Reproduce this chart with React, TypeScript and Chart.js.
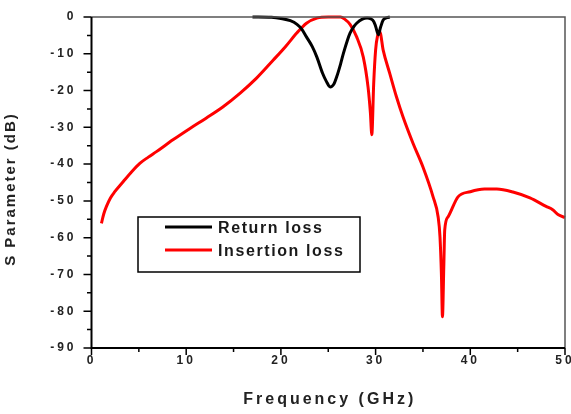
import React, { useEffect, useRef } from 'react';
import { Chart, registerables } from 'chart.js';

Chart.register(...registerables);

// Return loss (S11)
const returnFreq = [17, 19, 20, 21, 21.7, 22.2, 22.7, 23.3, 23.8, 24.4, 24.8, 25.2, 25.6, 25.9, 26.3, 26.6, 27.0, 27.3, 27.7, 28.0, 28.6, 29.1, 29.5, 29.8, 30.0, 30.3, 30.5, 30.8, 31.2, 31.5];
const returnDb = [0, -0.1, -0.4, -1.0, -2.0, -3.3, -5.4, -8.0, -10.9, -15.3, -17.5, -19, -18.2, -16.2, -12.8, -9.9, -6.5, -4.4, -2.6, -1.7, -0.6, -0.3, -0.5, -1.2, -2.5, -4.8, -3.0, -0.8, -0.2, 0];

// Insertion loss (S21)
const insertionFreq = [1.05, 1.3, 1.58, 2.0, 2.46, 3.34, 4.2, 5.1, 6.0, 6.86, 8.6, 10.4, 12.1, 13.9, 15.7, 17.4, 19.2, 20.5, 21.7, 22.7, 23.8, 25, 26.3, 26.7, 27.3, 28.0, 28.7, 29.2, 29.45, 29.6, 29.8, 30.0, 30.2, 30.45, 30.8, 31.5, 32.2, 32.9, 33.96, 35.0, 36.07, 36.6, 36.8, 36.95, 37.06, 37.2, 37.3, 37.66, 38.7, 40, 41.5, 42.8, 44.5, 46.3, 48, 48.7, 49.3, 50];
const insertionDb = [-56.1, -53.5, -51.5, -49.2, -47.5, -44.8, -42.2, -39.8, -38.1, -36.6, -33.4, -30.3, -27.5, -24.4, -20.7, -16.7, -11.7, -8, -4.3, -1.7, -0.3, 0, 0, -0.5, -2.0, -5.4, -10.9, -19, -26, -32, -18, -9, -5.2, -4.1, -9, -15.4, -21.7, -27.2, -34.4, -40.8, -48.9, -54.3, -59.8, -70, -81.5, -68, -57.9, -54.3, -48.9, -47.5, -46.8, -46.8, -47.6, -49.2, -51.5, -52.4, -53.8, -54.5];

const seriesLabels = ['Return loss', 'Insertion loss'];
const seriesColors = ['#000000', '#ff0000'];
const xMajorTicks = [0, 10, 20, 30, 40, 50];
const yMajorTicks = [0, -10, -20, -30, -40, -50, -60, -70, -80, -90];
const xTitle = 'Frequency (GHz)';
const yTitle = 'S Parameter (dB)';

const FONT = '"Liberation Sans", Arial, sans-serif';

export default function App() {
  const ref = useRef<HTMLCanvasElement>(null);

  useEffect(() => {
    document.body.style.margin = '0';
    const canvas = ref.current!;

    const framePlugin = {
      id: 'frameDecor',
      beforeUpdate(chart: any) {
        chart.ctx.letterSpacing = '3px';
      },
      beforeDraw(chart: any) {
        chart.ctx.letterSpacing = '3px';
      },
      afterDraw(chart: any) {
        const ctx = chart.ctx as CanvasRenderingContext2D;
        const a = chart.chartArea;
        const xs = chart.scales.x;
        const ys = chart.scales.y;
        ctx.save();
        (ctx as any).letterSpacing = '0px';

        // top / right frame
        ctx.strokeStyle = '#555';
        ctx.lineWidth = 1.5;
        ctx.beginPath();
        ctx.moveTo(a.left, a.top);
        ctx.lineTo(a.right, a.top);
        ctx.lineTo(a.right, a.bottom);
        ctx.stroke();

        // left / bottom axes
        ctx.strokeStyle = '#000';
        ctx.lineWidth = 2;
        ctx.beginPath();
        ctx.moveTo(a.left, a.top);
        ctx.lineTo(a.left, a.bottom);
        ctx.lineTo(a.right, a.bottom);
        ctx.stroke();

        // ticks
        ctx.lineWidth = 1.5;
        ctx.beginPath();
        ys.ticks.forEach((t: any) => {
          const py = ys.getPixelForValue(t.value);
          const len = yMajorTicks.includes(t.value) ? 8 : 4.5;
          ctx.moveTo(a.left - len, py);
          ctx.lineTo(a.left, py);
        });
        xs.ticks.forEach((t: any) => {
          const px = xs.getPixelForValue(t.value);
          const len = xMajorTicks.includes(t.value) ? 7 : 4;
          ctx.moveTo(px, a.bottom);
          ctx.lineTo(px, a.bottom + len);
        });
        ctx.stroke();

        // axis titles
        ctx.fillStyle = '#222';
        ctx.textAlign = 'center';
        ctx.textBaseline = 'middle';
        ctx.font = `bold 16px ${FONT}`;
        (ctx as any).letterSpacing = '3px';
        ctx.fillText(xTitle, (a.left + a.right) / 2 + 1.5, 400);

        ctx.save();
        ctx.font = `bold 15px ${FONT}`;
        (ctx as any).letterSpacing = '2px';
        ctx.translate(11, 190);
        ctx.rotate(-Math.PI / 2);
        ctx.fillText(yTitle, 1, 0);
        ctx.restore();

        // legend
        const bx = a.left + 46.5;
        const by = a.top + 200;
        const bw = 222;
        const bh = 55;
        ctx.fillStyle = '#fff';
        ctx.fillRect(bx, by, bw, bh);
        ctx.strokeStyle = '#000';
        ctx.lineWidth = 1.5;
        ctx.strokeRect(bx, by, bw, bh);
        const rows = [by + 10, by + 33];
        ctx.font = `bold 16px ${FONT}`;
        (ctx as any).letterSpacing = '1.6px';
        ctx.textAlign = 'left';
        seriesLabels.forEach((lab, i) => {
          ctx.strokeStyle = seriesColors[i];
          ctx.lineWidth = 3;
          ctx.beginPath();
          ctx.moveTo(bx + 27, rows[i]);
          ctx.lineTo(bx + 74, rows[i]);
          ctx.stroke();
          ctx.fillStyle = '#1a1a1a';
          ctx.fillText(lab, bx + 80, rows[i] + 1.5);
        });

        ctx.restore();
      },
    };

    const tickFont = { family: FONT, size: 12, weight: 'bold' as const };

    const chart = new Chart(canvas, {
      type: 'line',
      data: {
        datasets: [
          {
            label: seriesLabels[0],
            data: returnFreq.map((x, i) => ({ x, y: returnDb[i] })),
            borderColor: seriesColors[0],
            borderWidth: 3,
            pointRadius: 0,
            cubicInterpolationMode: 'monotone',
            clip: 3,
          },
          {
            label: seriesLabels[1],
            data: insertionFreq.map((x, i) => ({ x, y: insertionDb[i] })),
            borderColor: seriesColors[1],
            borderWidth: 3,
            pointRadius: 0,
            cubicInterpolationMode: 'monotone',
            clip: 3,
          },
        ],
      },
      options: {
        responsive: false,
        animation: false,
        layout: { padding: { top: 17, right: 6, left: 0, bottom: 0 } },
        plugins: { legend: { display: false }, tooltip: { enabled: false } },
        scales: {
          x: {
            type: 'linear',
            min: 0,
            max: 50,
            grid: { display: false, drawTicks: false },
            border: { display: false },
            ticks: {
              stepSize: 5,
              autoSkip: false,
              maxRotation: 0,
              padding: 5,
              color: '#222',
              font: tickFont,
              callback: (v: any) => (xMajorTicks.includes(v) ? String(v) : ''),
            },
            afterFit(s: any) {
              s.height = 66;
              s.paddingLeft = 0;
              s.paddingRight = 0;
            },
          },
          y: {
            type: 'linear',
            min: -90,
            max: 0,
            grid: { display: false, drawTicks: false },
            border: { display: false },
            ticks: {
              stepSize: 5,
              autoSkip: false,
              padding: 15,
              color: '#222',
              font: tickFont,
              callback: (v: any) => (yMajorTicks.includes(v) ? String(v) : ''),
            },
            afterFit(s: any) {
              s.width = 91.5;
              s.paddingTop = 0;
              s.paddingBottom = 0;
            },
          },
        },
      },
      plugins: [framePlugin],
    } as any);

    return () => chart.destroy();
  }, []);

  return <canvas ref={ref} width={571} height={414} style={{ display: 'block' }} />;
}
